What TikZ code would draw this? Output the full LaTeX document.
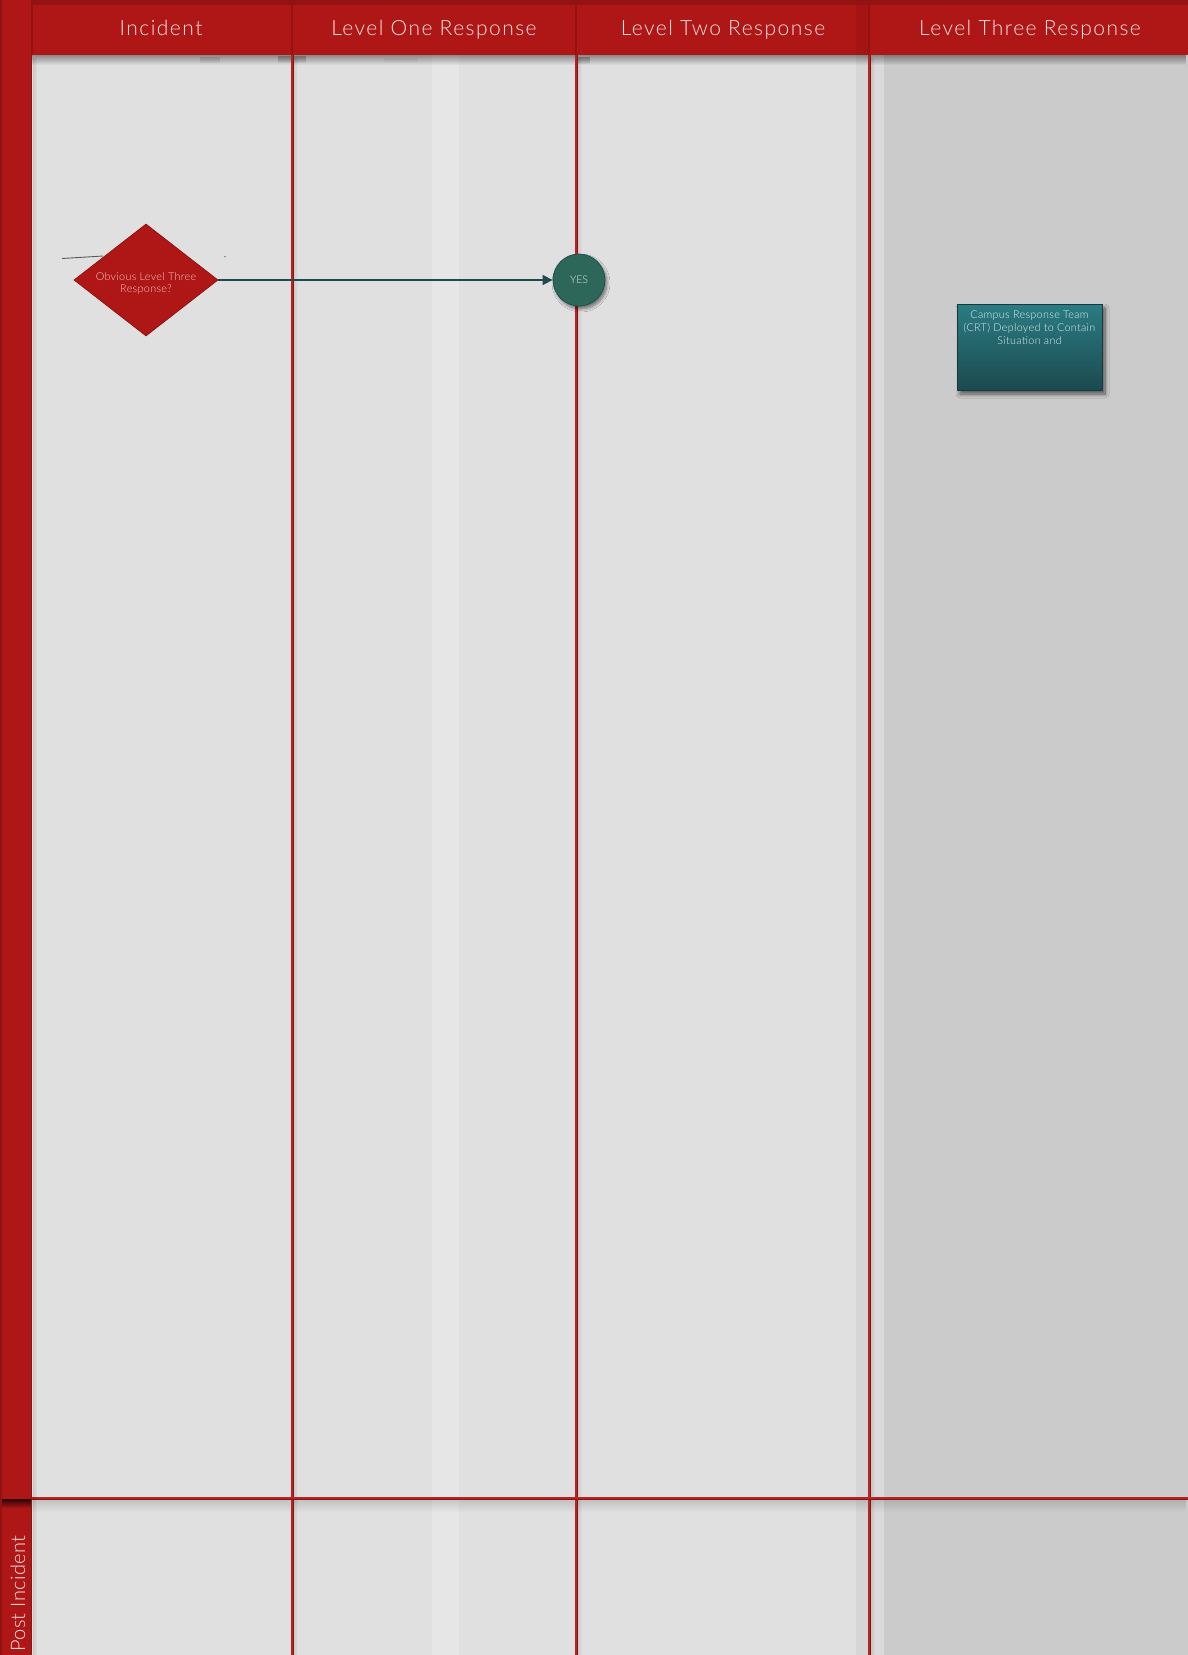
\documentclass[tikz,border=0pt]{standalone}
\usepackage{fontspec}
\setmainfont{Lato}
\newfontfamily\lightfont{Lato Light}
\usetikzlibrary{shapes.geometric,arrows.meta,shadows.blur,fadings}
\definecolor{hdrred}{HTML}{AF1616}
\definecolor{hdrdark}{HTML}{931212}
\definecolor{lanebg}{HTML}{E0E0E0}
\definecolor{lanebgthree}{HTML}{CBCBCB}
\definecolor{stripone}{HTML}{E6E6E6}
\definecolor{striptwo}{HTML}{D6D6D6}
\definecolor{stripthree}{HTML}{DADADA}
\definecolor{divedge}{HTML}{8A1414}
\definecolor{divmid}{HTML}{B82222}
\definecolor{hdrtext}{HTML}{F6E4E4}
\definecolor{diatext}{HTML}{F2C6C6}
\definecolor{yesfill}{HTML}{2D6759}
\definecolor{yesedge}{HTML}{22504A}
\definecolor{arrowc}{HTML}{1E4A4C}
\definecolor{boxtop}{HTML}{2B7C83}
\definecolor{boxbot}{HTML}{1B4A4F}
\definecolor{boxedge}{HTML}{17393C}
\definecolor{boxtext}{HTML}{DCEFF1}
\tikzfading[name=fadedown, top color=transparent!0, bottom color=transparent!100]
\tikzfading[name=faderight, left color=transparent!0, right color=transparent!100]
\tikzset{
  hdrtitle/.style={anchor=base, text=hdrtext, font=\lightfont\fontsize{21}{24}\selectfont\addfontfeatures{LetterSpace=7}},
  decision/.style={diamond, draw=hdrdark, line width=0.8, fill=hdrred, minimum width=144pt, minimum height=112pt, aspect=1.286, inner sep=0pt, text=diatext, align=center, font=\lightfont\fontsize{10.8}{12.6}\selectfont\addfontfeatures{LetterSpace=3}},
  yesnode/.style={circle, draw=yesedge, line width=0.8, fill=yesfill, minimum size=52pt, inner sep=0pt, text=white!85!yesfill, font=\lightfont\fontsize{10.5}{12}\selectfont,
    blur shadow={shadow xshift=2pt, shadow yshift=-3pt, shadow blur steps=8, shadow blur radius=3pt, shadow opacity=50}},
  taskbox/.style={rectangle, draw=boxedge, line width=1, top color=boxtop, bottom color=boxbot, minimum width=145pt, minimum height=86pt, inner sep=0pt, text=boxtext,
    blur shadow={shadow xshift=3pt, shadow yshift=-4pt, shadow blur steps=8, shadow blur radius=4pt, shadow opacity=60}},
  flow/.style={draw=arrowc, line width=1.6, -{Triangle[length=10pt,width=10pt]}},
  divline/.style={draw=divedge, line width=3pt},
  divcore/.style={draw=divmid, line width=1.1pt},
}
\begin{document}
\begin{tikzpicture}[x=1pt,y=-1pt]
\useasboundingbox (0,0) rectangle (1188,1655);
% lane backgrounds
\fill[lanebg] (32,55) rectangle (1188,1655);
\fill[lanebgthree] (884,55) rectangle (1188,1655);
\fill[stripthree] (870,55) rectangle (884,1655);
\fill[striptwo] (856,55) rectangle (868,1655);
\fill[stripone] (432,55) rectangle (459,1655);
% shadows under header and under horizontal divider
\fill[black, opacity=0.38, path fading=fadedown] (32,55) rectangle (1188,65);
\fill[black, opacity=0.14, path fading=fadedown] (32,1499) rectangle (1188,1512);
% stray marks under header
\fill[black!65, opacity=0.6, path fading=fadedown] (278,56) rectangle (306,63);
\fill[black!65, opacity=0.6, path fading=fadedown] (578,57) rectangle (590,64);
\fill[black!55, opacity=0.45, path fading=fadedown] (200,57) rectangle (220,63);
\fill[black!45, opacity=0.3, path fading=fadedown] (384,58) rectangle (418,63);
% divider right-side shadows
\foreach \xx in {292,576,869} {
  \fill[black, opacity=0.10, path fading=faderight] (\xx+1.5,55) rectangle (\xx+6,1655);
}
% vertical dividers
\foreach \xx in {292,576,869} {
  \draw[divline] (\xx,55) -- (\xx,1655);
  \draw[divcore] (\xx,55) -- (\xx,1655);
}
% horizontal divider
\draw[divline] (32,1498) -- (1188,1498);
\draw[divcore] (32,1498) -- (1188,1498);
% header band
\fill[hdrred] (0,0) rectangle (1188,55);
\fill[hdrdark] (0,0) rectangle (1188,5);
\fill[hdrdark, opacity=0.35] (856,5) rectangle (869,55);
\foreach \xx in {32,292,576,869} {
  \draw[hdrdark, line width=1.6] (\xx,5) -- (\xx,55);
}
% left lane-label bar
\fill[hdrred] (0,0) rectangle (32,1655);
\fill[hdrdark] (0,0) rectangle (2,1655);
\draw[hdrdark, line width=1.2] (31.4,0) -- (31.4,1655);
\fill[black, opacity=0.12, path fading=faderight] (32.5,55) rectangle (37,1655);
\shade[top color=black!75!hdrred, bottom color=hdrred] (2,1499) rectangle (31,1508);
% header titles
\node[hdrtitle] (hinc) at (161,35) {Incident};
\node[hdrtitle] (hone) at (434,35) {Level One Response};
\node[hdrtitle] (htwo) at (723,35) {Level Two Response};
\node[hdrtitle] (hthree) at (1030,35) {Level Three Response};
% post incident lane label
\node[rotate=90, anchor=base west, inner sep=0pt, text=hdrtext, font=\lightfont\fontsize{20}{24}\selectfont\addfontfeatures{LetterSpace=2}] (lpost) at (25,1652) {Post Incident};
% stray line near the diamond
\draw[black!65, line width=0.9] (62,258.5) -- (103,256);
\fill[black!50] (225,256.7) circle (0.8);
% flow
\node[decision] (dia) at (146,280) {\raisebox{-6.8pt}[0pt][0pt]{\begin{tabular}{@{}c@{}}Obvious Level Three\\Response?\end{tabular}}};
\node[yesnode] (yes) at (579,280) {YES};
\draw[flow] (dia.east) -- (yes.west);
\node[taskbox] (crt) at (1029.5,347) {\parbox[t][80pt][t]{143pt}{\centering\lightfont\fontsize{10.8}{12.7}\selectfont\addfontfeatures{LetterSpace=3}\vspace*{4pt}Campus Response Team\\(CRT) Deployed to Contain\\Situation and}};
\end{tikzpicture}
\end{document}
